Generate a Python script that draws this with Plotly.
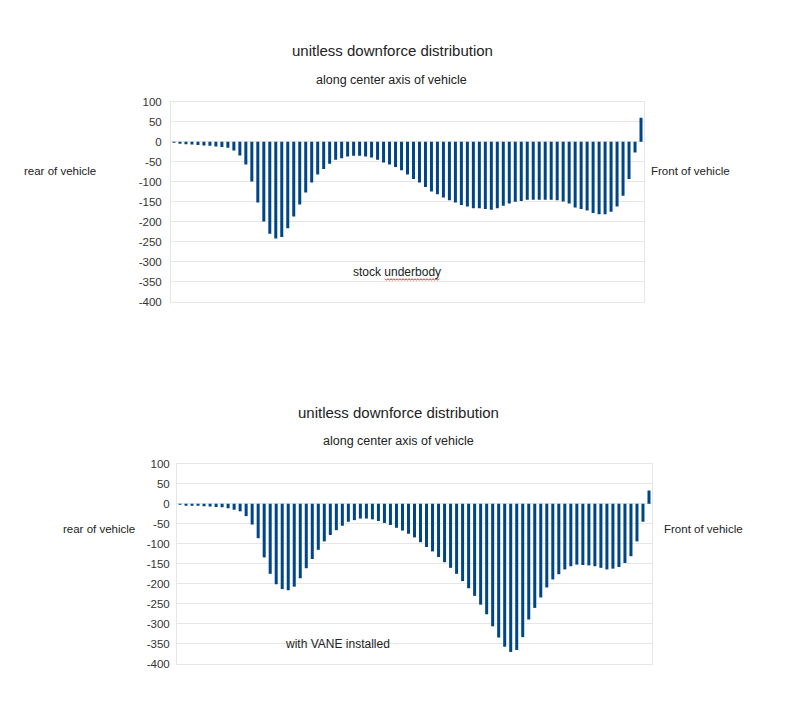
import plotly.graph_objects as go

# ---- data ----
positions = list(range(1, 80))

stock_underbody = [
    -2, -4, -6, -7, -8, -9, -10, -12, -13, -15,
    -22, -34, -57, -99, -152, -199, -230, -242, -238, -216,
    -187, -157, -127, -102, -82, -68, -55, -45, -41, -37,
    -35, -35, -37, -39, -45, -52, -57, -63, -71, -82,
    -93, -102, -113, -124, -131, -139, -146, -152, -158, -162,
    -166, -166, -168, -170, -166, -160, -154, -150, -148, -145,
    -145, -145, -145, -145, -146, -149, -154, -164, -168, -172, -178,
    -181, -181, -175, -162, -135, -93, -27, 60,
]

with_vane = [
    -2, -3, -4, -5, -6, -7, -8, -9, -11, -15,
    -19, -31, -52, -86, -134, -175, -201, -213, -216, -207,
    -186, -161, -138, -115, -94, -78, -66, -55, -45, -41,
    -37, -37, -39, -43, -48, -53, -60, -67, -75,
    -84, -96, -108, -119, -133, -146, -160, -175, -193, -211,
    -230, -252, -276, -306, -334, -357, -370, -365, -333, -289,
    -260, -234, -209, -189, -176, -164, -156, -152, -153, -154,
    -156, -160, -164, -162, -158, -148, -131, -94, -45, 33,
]

y_ticks = [100, 50, 0, -50, -100, -150, -200, -250, -300, -350, -400]
y_tick_text = [str(v) for v in y_ticks]

chart_title = "unitless downforce distribution"
chart_subtitle = "along center axis of vehicle"
left_label = "rear of vehicle"
right_label = "Front of vehicle"
top_note = "stock underbody"
bottom_note = "with VANE installed"

# ---- layout helpers ----
W, H = 800, 719
OFF = 8  # page body margin shifts the figure by 8px right and down
FONT = "Liberation Sans, Arial, sans-serif"
BAR_COLOR = "#004586"
GRID = "#e6e6e6"
TEXT = "#222222"


def px(x):
    return (x - OFF) / W


def py(y):
    return 1 - (y - OFF) / H


fig = go.Figure()
fig.add_trace(go.Bar(x=positions, y=stock_underbody, marker_color=BAR_COLOR,
                     marker_line_width=0, xaxis="x", yaxis="y", showlegend=False))
fig.add_trace(go.Bar(x=positions, y=with_vane, marker_color=BAR_COLOR,
                     marker_line_width=0, xaxis="x2", yaxis="y2", showlegend=False))

xcommon = dict(range=[0.5, len(positions) + 0.5], showticklabels=False, showgrid=False,
               zeroline=False, showline=True, mirror=True, linecolor=GRID, linewidth=1,
               ticks="")
ycommon = dict(range=[-400, 100], tickvals=y_ticks, ticktext=y_tick_text,
               showgrid=True, gridcolor=GRID, gridwidth=1, zeroline=False,
               showline=True, mirror=True, linecolor=GRID, linewidth=1, ticks="",
               tickfont=dict(family=FONT, size=11.5, color="#333333"))

fig.update_layout(
    width=W, height=H,
    margin=dict(l=0, r=0, t=0, b=0),
    paper_bgcolor="white", plot_bgcolor="white",
    bargap=0.5,
    font=dict(family=FONT, color=TEXT),
    xaxis=dict(domain=[px(171), px(644)], anchor="y", **xcommon),
    yaxis=dict(domain=[py(300.7), py(97.3)], anchor="x", ticklabelstandoff=6, **ycommon),
    xaxis2=dict(domain=[px(177), px(652)], anchor="y2", **xcommon),
    yaxis2=dict(domain=[py(669), py(465.3)], anchor="x2", ticklabelstandoff=4, **ycommon),
)


def label(text, x, y, size):
    fig.add_annotation(text=text, x=px(x), y=py(y), xref="paper", yref="paper",
                       showarrow=False, xanchor="center", yanchor="middle",
                       font=dict(family=FONT, size=size, color=TEXT))


# top chart texts
label(chart_title, 392, 45, 15)
label(chart_subtitle, 391, 75, 12.5)
label(left_label, 60, 168, 11.5)
label(right_label, 690, 168, 11.5)
label(top_note, 397, 270, 12)

# bottom chart texts
label(chart_title, 398, 413, 15)
label(chart_subtitle, 398, 442, 12.5)
label(left_label, 99, 532, 11.5)
label(right_label, 703, 532, 11.5)
label(bottom_note, 337, 649, 12)

# red spell-check squiggle under "underbody"
x0, x1, yb = 385, 440, 278
pts = []
xx = x0
up = True
while xx <= x1:
    pts.append((px(xx), py(yb - 0.8 if up else yb + 0.8)))
    up = not up
    xx += 1.5
path = "M " + " L ".join(f"{a},{b}" for a, b in pts)
fig.add_shape(type="path", path=path, xref="paper", yref="paper",
              line=dict(color="#e03030", width=1))

fig.write_html("out.html")
